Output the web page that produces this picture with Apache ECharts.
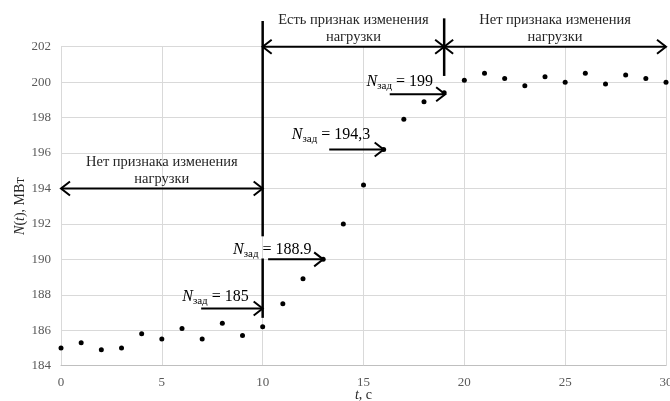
<!DOCTYPE html>
<html>
<head>
<meta charset="utf-8">
<script src="https://cdn.jsdelivr.net/npm/echarts@6/dist/echarts.min.js"></script>
<style>
  html, body { margin: 0; padding: 0; background: #fff; }
  #chart { width: 670px; height: 401px; }
</style>
</head>
<body>
<div id="chart"></div>
<script>
  // time, s
  var timeSec = [0, 1, 2, 3, 4, 5, 6, 7, 8, 9, 10, 11, 12, 13, 14, 15, 16, 17, 18, 19, 20,
                 21, 22, 23, 24, 25, 26, 27, 28, 29, 30];
  // N(t), MW
  var powerMW = [185.0, 185.3, 184.9, 185.0, 185.8, 185.5, 186.1, 185.5, 186.4, 185.7, 186.2,
                 187.5, 188.9, 190.0, 192.0, 194.2, 196.2, 197.9, 198.9, 199.4, 200.1,
                 200.5, 200.2, 199.8, 200.3, 200.0, 200.5, 199.9, 200.4, 200.2, 200.0];

  // zone borders: x1, y1, x2, y2
  var borderLines = [
    [10, 203.45, 10, 191.3],
    [10, 190.05, 10, 186.7],
    [19, 203.6, 19, 200.35]
  ];
  // arrows: x1, y1, x2, y2, head at start, head at end
  var arrowLines = [
    [0, 194, 10, 194, 1, 1],
    [10, 202, 19, 202, 1, 1],
    [19, 202, 30, 202, 1, 1],
    [6.95, 187.23, 10, 187.23, 0, 1],
    [10.27, 190.0, 13, 190.0, 0, 1],
    [13.3, 196.2, 16, 196.2, 0, 1],
    [16.3, 199.32, 19.05, 199.32, 0, 1]
  ];
  // zone captions
  var zoneX = [5, 14.5, 24.5];
  var zoneY = [194.98, 203.0, 203.0];
  var zoneText = ['Нет признака изменения\nнагрузки', 'Есть признак изменения\nнагрузки', 'Нет признака изменения\nнагрузки'];
  // setpoint captions
  var setX = [7.66, 10.48, 13.39, 16.8];
  var setY = [187.9, 190.56, 197.02, 200.03];
  var setText = ['185', '188.9', '194,3', '199'];

  var serif = '"Liberation Serif", "DejaVu Serif", serif';

  function chevron(tip, from) {
    var dx = tip[0] - from[0], dy = tip[1] - from[1];
    var len = Math.sqrt(dx * dx + dy * dy);
    dx /= len; dy /= len;
    var L = 9, W = 7;
    return {
      type: 'polyline',
      shape: { points: [
        [tip[0] - L * dx - W * dy, tip[1] - L * dy + W * dx],
        tip,
        [tip[0] - L * dx + W * dy, tip[1] - L * dy - W * dx]
      ] },
      style: { stroke: '#000', fill: null, lineWidth: 2 }
    };
  }

  var chart = echarts.init(document.getElementById('chart'));
  var option = {
    animation: false,
    backgroundColor: '#fff',
    grid: { left: 61, right: 4, top: 46.7, bottom: 35.3, outerBoundsMode: 'none' },
    xAxis: {
      type: 'value',
      min: 0, max: 30, interval: 5,
      name: '{i|t}, с',
      nameLocation: 'middle',
      nameGap: 23,
      nameMoveOverlap: false,
      nameTextStyle: {
        fontFamily: serif, fontSize: 14, color: '#262626',
        rich: { i: { fontFamily: serif, fontSize: 14, fontStyle: 'italic', color: '#262626' } }
      },
      axisLine: { lineStyle: { color: '#bfbfbf', width: 1 } },
      axisTick: { show: false },
      axisLabel: { fontFamily: serif, fontSize: 13, color: '#595959', margin: 10 },
      splitLine: { lineStyle: { color: '#d9d9d9', width: 1 } }
    },
    yAxis: {
      type: 'value',
      min: 184, max: 202, interval: 2,
      name: '{i|N}({i|t}), МВт',
      nameLocation: 'middle',
      nameGap: 34,
      nameMoveOverlap: false,
      nameTextStyle: {
        fontFamily: serif, fontSize: 14, color: '#262626',
        rich: { i: { fontFamily: serif, fontSize: 14, fontStyle: 'italic', color: '#262626' } }
      },
      axisLine: { show: false },
      axisTick: { show: false },
      axisLabel: { fontFamily: serif, fontSize: 13, color: '#595959', margin: 10 },
      splitLine: { lineStyle: { color: '#d9d9d9', width: 1 } }
    },
    series: [
      {
        type: 'scatter',
        data: timeSec.map(function (t, i) { return [t, powerMW[i]]; }),
        symbol: 'circle',
        symbolSize: 5,
        clip: false,
        itemStyle: { color: '#000', opacity: 1 },
        silent: true
      },
      {
        type: 'custom',
        clip: false,
        silent: true,
        data: borderLines,
        renderItem: function (params, api) {
          var a = api.coord([api.value(0), api.value(1)]);
          var b = api.coord([api.value(2), api.value(3)]);
          return {
            type: 'line',
            shape: { x1: a[0], y1: a[1], x2: b[0], y2: b[1] },
            style: { stroke: '#000', lineWidth: 2.5 }
          };
        }
      },
      {
        type: 'custom',
        clip: false,
        silent: true,
        data: arrowLines,
        renderItem: function (params, api) {
          var a = api.coord([api.value(0), api.value(1)]);
          var b = api.coord([api.value(2), api.value(3)]);
          var kids = [{
            type: 'line',
            shape: { x1: a[0], y1: a[1], x2: b[0], y2: b[1] },
            style: { stroke: '#000', lineWidth: 2 }
          }];
          if (api.value(4)) kids.push(chevron(a, b));
          if (api.value(5)) kids.push(chevron(b, a));
          return { type: 'group', children: kids };
        }
      },
      {
        type: 'custom',
        clip: false,
        silent: true,
        data: zoneX.map(function (x, i) { return [x, zoneY[i]]; }),
        renderItem: function (params, api) {
          var p = api.coord([api.value(0), api.value(1)]);
          return {
            type: 'text',
            x: p[0], y: p[1],
            style: {
              text: zoneText[params.dataIndex],
              font: '14.5px ' + serif,
              fill: '#262626',
              align: 'center',
              verticalAlign: 'middle',
              lineHeight: 17
            }
          };
        }
      },
      {
        type: 'custom',
        clip: false,
        silent: true,
        data: setX.map(function (x, i) { return [x, setY[i]]; }),
        renderItem: function (params, api) {
          var p = api.coord([api.value(0), api.value(1)]);
          return {
            type: 'text',
            x: p[0], y: p[1],
            style: {
              text: '{n|N}{s|зад}{v| = ' + setText[params.dataIndex] + '}',
              align: 'center',
              verticalAlign: 'middle',
              fill: '#000',
              rich: {
                n: { fontFamily: serif, fontSize: 16, fontStyle: 'italic', lineHeight: 20, verticalAlign: 'middle', fill: '#000' },
                s: { fontFamily: serif, fontSize: 11, lineHeight: 10, verticalAlign: 'bottom', fill: '#000' },
                v: { fontFamily: serif, fontSize: 16, lineHeight: 20, verticalAlign: 'middle', fill: '#000' }
              }
            }
          };
        }
      }
    ]
  };
  chart.setOption(option);
</script>
</body>
</html>
